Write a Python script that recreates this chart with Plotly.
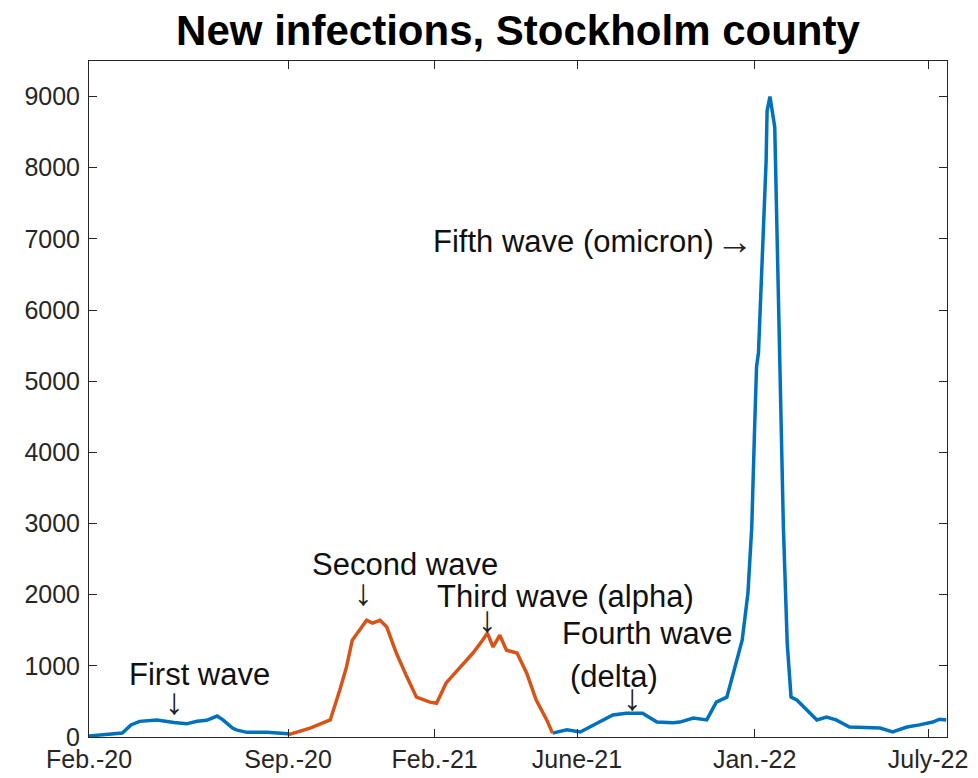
import plotly.graph_objects as go
import pandas as pd

# ---- data ----
dates = [
    "2020-02-06", "2020-02-27", "2020-03-12", "2020-03-21", "2020-03-30", "2020-04-17",
    "2020-04-27", "2020-05-05", "2020-05-18", "2020-05-29", "2020-06-08", "2020-06-19",
    "2020-06-25", "2020-07-05", "2020-07-09", "2020-07-20", "2020-08-10", "2020-08-31",
    "2020-09-01", "2020-09-03", "2020-09-24", "2020-10-15", "2020-10-25", "2020-11-01",
    "2020-11-07", "2020-11-14", "2020-11-22", "2020-11-28", "2020-12-06", "2020-12-13",
    "2020-12-23", "2021-01-03", "2021-01-13", "2021-01-27", "2021-02-03", "2021-02-13",
    "2021-02-27", "2021-03-13", "2021-03-23", "2021-03-28", "2021-04-03", "2021-04-10",
    "2021-04-17", "2021-04-28", "2021-05-08", "2021-05-18", "2021-05-29", "2021-06-04",
    "2021-06-19", "2021-07-03", "2021-07-21", "2021-08-06", "2021-08-20", "2021-09-06",
    "2021-09-21", "2021-10-08", "2021-10-15", "2021-10-29", "2021-11-12", "2021-11-22",
    "2021-12-03", "2021-12-13", "2021-12-19", "2021-12-25", "2021-12-29", "2022-01-01",
    "2022-01-03", "2022-01-05", "2022-01-09", "2022-01-13", "2022-01-14", "2022-01-17",
    "2022-01-22", "2022-01-25", "2022-01-28", "2022-01-31", "2022-02-04", "2022-02-08",
    "2022-02-14", "2022-02-24", "2022-03-07", "2022-03-17", "2022-03-27", "2022-04-10",
    "2022-04-28", "2022-05-12", "2022-05-25", "2022-06-09", "2022-06-22", "2022-07-06",
    "2022-07-13", "2022-07-20",
]
new_cases = [
    15, 40, 55, 170, 220, 240,
    215, 205, 185, 220, 235, 295,
    240, 125, 100, 65, 65, 50,
    45, 40, 125, 240, 660, 985,
    1360, 1500, 1640, 1600, 1640, 1545,
    1180, 845, 560, 490, 475, 760,
    970, 1180, 1360, 1460, 1265, 1430,
    1220, 1180, 900, 520, 240, 55,
    100, 70, 200, 310, 335, 335,
    210, 200, 210, 265, 240, 490,
    560, 1080, 1360, 2020, 2950, 4350,
    5200, 5400, 6700, 8100, 8800, 9000,
    8570, 6700, 5300, 2950, 1320, 560,
    520, 380, 240, 280, 240, 140,
    125, 125, 70, 140, 170, 210,
    250, 240,
]
orange_start = "2020-09-01"   # second + third wave highlighted
orange_end = "2021-06-04"

tick_dates = ["2020-02-06 06:00", "2020-09-01", "2021-02-01", "2021-06-29 14:00", "2022-01-01", "2022-07-01"]
tick_labels = ["Feb.-20", "Sep.-20", "Feb.-21", "June-21", "Jan.-22", "July-22"]
y_ticks = [0, 1000, 2000, 3000, 4000, 5000, 6000, 7000, 8000, 9000]

labels_text = ["First wave", "Second wave", "Third wave (alpha)", "Fourth wave", "(delta)"]
labels_date = ["2020-06-01", "2021-01-01", "2021-06-18", "2021-09-11", "2021-08-07"]
labels_value = [885, 2430, 1980, 1450, 857]

fifth_text = "Fifth wave (omicron)"
fifth_date = "2021-11-22"      # right end of the label
fifth_value = 6966
fifth_arrow_date = "2021-12-11"

arrows_date = ["2020-05-05", "2020-11-19", "2021-03-28", "2021-08-27"]
arrows_value = [505, 2035, 1645, 560]

# ---- build ----
df = pd.DataFrame({"date": pd.to_datetime(dates), "cases": new_cases})
o0, o1 = pd.Timestamp(orange_start), pd.Timestamp(orange_end)
blue1 = df[df.date <= o0]
orange = df[(df.date >= o0) & (df.date <= o1)]
blue2 = df[df.date >= o1]

BLUE = "#0072BD"
ORANGE = "#D95319"
AX = "#262626"
FONT = "Liberation Sans, Arial, Helvetica, sans-serif"

fig = go.Figure()
for part, col in [(blue1, BLUE), (blue2, BLUE), (orange, ORANGE)]:
    fig.add_trace(go.Scatter(x=part.date, y=part.cases, mode="lines",
                             line=dict(color=col, width=3.5), showlegend=False,
                             hoverinfo="skip"))

for t, d, v in zip(labels_text, labels_date, labels_value):
    fig.add_annotation(x=d, y=v, text=t, showarrow=False, xanchor="center", yanchor="middle",
                       font=dict(family=FONT, size=31, color="#111111"))
fig.add_annotation(x=fifth_date, y=fifth_value, text=fifth_text, showarrow=False,
                   xanchor="right", yanchor="middle",
                   font=dict(family=FONT, size=31, color="#111111"))
fig.add_annotation(x=fifth_arrow_date, y=fifth_value, text="\u2192", showarrow=False,
                   xanchor="center", yanchor="middle",
                   font=dict(family=FONT, size=37, color="#222222"))
for d, v in zip(arrows_date, arrows_value):
    fig.add_annotation(x=d, y=v, text="\u2193", showarrow=False, xanchor="center", yanchor="middle",
                       font=dict(family=FONT, size=37, color="#222222"))

fig.update_layout(
    width=978, height=778,
    margin=dict(l=89, r=31, t=61, b=41),
    paper_bgcolor="white", plot_bgcolor="white",
    title=dict(text="<b>New infections, Stockholm county</b>", x=0.5, xref="paper",
               y=1 - 30 / 778, yref="container", yanchor="middle", xanchor="center",
               font=dict(family=FONT, size=42, color="#000000")),
    font=dict(family=FONT, color=AX),
)
fig.update_xaxes(type="date", range=["2020-02-06 05:00", "2022-07-20 19:00"],
                 tickvals=tick_dates, ticktext=tick_labels, automargin=False,
                 ticks="inside", ticklen=8, tickcolor=AX, tickwidth=1,
                 showline=True, linecolor=AX, linewidth=1, mirror="ticks",
                 showgrid=False, zeroline=False, ticklabelstandoff=0,
                 tickfont=dict(family=FONT, size=25, color=AX))
fig.update_yaxes(range=[0, 9500], tickvals=y_ticks, automargin=False,
                 ticks="inside", ticklen=8, tickcolor=AX, tickwidth=1,
                 showline=True, linecolor=AX, linewidth=1, mirror="ticks",
                 showgrid=False, zeroline=False, ticklabelstandoff=3,
                 tickfont=dict(family=FONT, size=25, color=AX))

fig.write_html("out.html")
